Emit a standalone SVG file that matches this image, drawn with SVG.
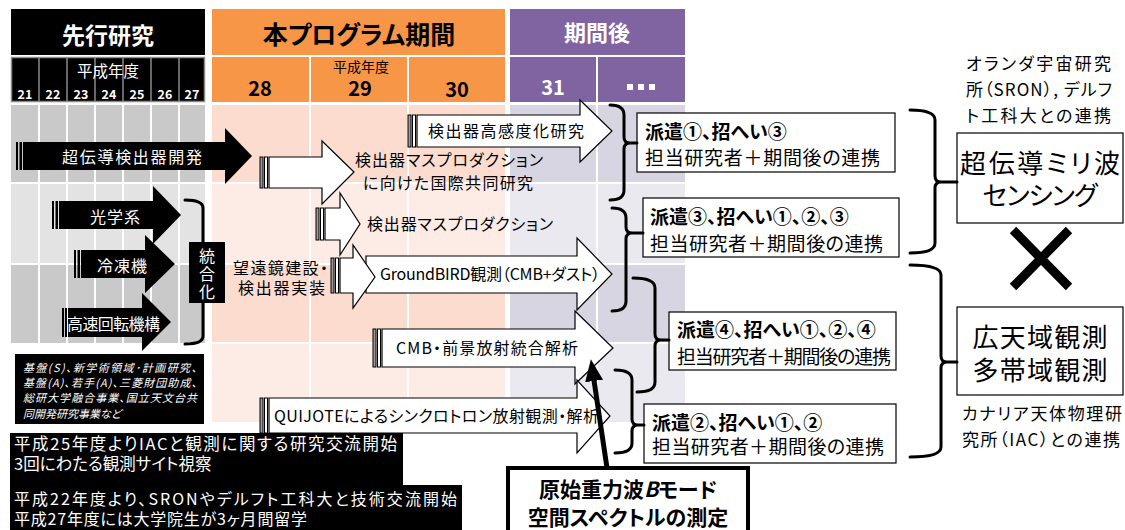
<svg xmlns="http://www.w3.org/2000/svg" width="1125" height="530" viewBox="0 0 1125 530">
<style>
text{font-family:'Noto Sans CJK JP','Noto Sans',sans-serif;font-feature-settings:"palt";}
.w{fill:#fff}
.bd{font-weight:bold}
.m{text-anchor:middle}
.arr{fill:#fff;stroke:#000;stroke-width:1.2;stroke-linejoin:miter}
.bar{fill:#fff;stroke:#000;stroke-width:1}
.barg{fill:#9a9a9a;stroke:#000;stroke-width:1}
.brace{fill:none;stroke:#000;stroke-width:3;stroke-linejoin:round;stroke-linecap:round}
.box{fill:#fff;stroke:#000;stroke-width:1.2}
.sepw{stroke:#fff;stroke-width:2}
.sepg{stroke:#8a8a8a;stroke-width:1.5}
.t16{font-size:16px}
.t19{font-size:19px}
</style>
<defs>
<marker id="ah" markerUnits="userSpaceOnUse" markerWidth="24" markerHeight="20" refX="4" refY="10" orient="auto">
<path d="M0,1 L22,10 L0,19 Z" fill="#000"/>
</marker>
</defs>
<rect width="1125" height="530" fill="#fff"/>

<g id="header">
<rect x="11" y="9" width="194" height="46" fill="#000"/>
<text x="108" y="44" class="w bd m" font-size="23">先行研究</text>
<rect x="212" y="9" width="293" height="46" fill="#f79646"/>
<text x="359" y="44" class="bd m" font-size="25">本プログラム期間</text>
<rect x="510" y="9" width="175" height="46" fill="#8064a2"/>
<text x="597" y="41" class="w bd m" font-size="22">期間後</text>

<rect x="11" y="57" width="194" height="45" fill="#000"/>
<g class="sepg">
<line x1="39" y1="57" x2="39" y2="102"/><line x1="67" y1="57" x2="67" y2="102"/><line x1="95" y1="57" x2="95" y2="102"/>
<line x1="123" y1="57" x2="123" y2="102"/><line x1="151" y1="57" x2="151" y2="102"/><line x1="179" y1="57" x2="179" y2="102"/>
<rect x="11.5" y="57.5" width="193" height="44" fill="none"/>
</g>
<text x="108" y="77" class="w m" font-size="15.5">平成年度</text>
<g class="w bd m" font-size="12.5">
<text x="25" y="99">21</text><text x="53" y="99">22</text><text x="81" y="99">23</text><text x="109" y="99">24</text>
<text x="137" y="99">25</text><text x="165" y="99">26</text><text x="192" y="99">27</text>
</g>
<rect x="212" y="57" width="293" height="45" fill="#f79646"/>
<line x1="310" y1="57" x2="310" y2="102" class="sepw"/><line x1="408" y1="57" x2="408" y2="102" class="sepw"/>
<text x="361" y="72" class="m" font-size="14">平成年度</text>
<text x="260" y="96" class="bd m" font-size="20">28</text>
<text x="360" y="96" class="bd m" font-size="20">29</text>
<text x="457" y="97" class="bd m" font-size="20">30</text>
<rect x="510" y="57" width="175" height="45" fill="#8064a2"/>
<line x1="597" y1="57" x2="597" y2="102" class="sepw"/>
<text x="553" y="95" class="w bd m" font-size="20">31</text>
<g fill="#fff"><rect x="627" y="84" width="6" height="6"/><rect x="638" y="84" width="6" height="6"/><rect x="649" y="84" width="6" height="6"/></g>
</g>

<g id="timeline-body">
<rect x="11" y="105" width="194" height="78" fill="#c9c9c9"/>
<rect x="11" y="183" width="194" height="81" fill="#e3e3e3"/>
<rect x="11" y="264" width="194" height="79" fill="#c9c9c9"/>
<g class="sepw">
<line x1="39" y1="105" x2="39" y2="343"/><line x1="67" y1="105" x2="67" y2="343"/><line x1="95" y1="105" x2="95" y2="343"/>
<line x1="123" y1="105" x2="123" y2="343"/><line x1="151" y1="105" x2="151" y2="343"/><line x1="179" y1="105" x2="179" y2="343"/>
<line x1="11" y1="183" x2="205" y2="183"/><line x1="11" y1="264" x2="205" y2="264"/>
</g>
<rect x="212" y="105" width="293" height="78" fill="#fbdccf"/>
<rect x="212" y="183" width="293" height="81" fill="#fdece6"/>
<rect x="212" y="264" width="293" height="79" fill="#fbdccf"/>
<rect x="212" y="343" width="293" height="79" fill="#fdece6"/>
<rect x="510" y="105" width="175" height="78" fill="#d8d5e3"/>
<rect x="510" y="183" width="175" height="81" fill="#ebe9f0"/>
<rect x="510" y="264" width="175" height="79" fill="#d8d5e3"/>
<rect x="510" y="343" width="175" height="79" fill="#ebe9f0"/>
<g class="sepw">
<line x1="310" y1="105" x2="310" y2="422"/><line x1="408" y1="105" x2="408" y2="422"/><line x1="597" y1="105" x2="597" y2="422"/>
<line x1="212" y1="183" x2="505" y2="183"/><line x1="212" y1="264" x2="505" y2="264"/><line x1="212" y1="343" x2="505" y2="343"/>
<line x1="510" y1="183" x2="685" y2="183"/><line x1="510" y1="264" x2="685" y2="264"/><line x1="510" y1="343" x2="685" y2="343"/>
</g>
</g>

<g id="prior-arrows">
<g id="n-superconducting">
<rect x="16" y="142" width="2" height="28"/><rect x="19.5" y="142" width="2.5" height="28"/>
<polygon points="23,142 225,142 225,128 252,156 225,184 225,170 23,170"/>
<text x="62" y="163" class="w t16" textLength="140">超伝導検出器開発</text>
</g>
<g id="n-optics">
<rect x="52" y="201" width="2" height="28"/><rect x="55.5" y="201" width="2.5" height="28"/>
<polygon points="59,201 153,201 153,186 181,215 153,244 153,229 59,229"/>
<text x="90" y="223" class="w t16" textLength="50">光学系</text>
</g>
<g id="n-cryo">
<rect x="74" y="250" width="2" height="28"/><rect x="77.5" y="250" width="2.5" height="28"/>
<polygon points="81,250 145,250 145,235 175,264 145,293 145,278 81,278"/>
<text x="97" y="272" class="w t16" textLength="50">冷凍機</text>
</g>
<g id="n-rotation">
<rect x="62" y="308" width="2" height="29"/><rect x="65" y="308" width="2" height="29"/>
<polygon points="68,308 142,308 142,293 171,322 142,351 142,337 68,337"/>
<text x="67" y="330" class="w t16" textLength="93">高速回転機構</text>
</g>
<path class="brace" d="M185,200 Q203,200 203,208 V336 Q203,344 185,344" stroke-width="2.5"/>
<g id="n-integration">
<rect x="189" y="242" width="36" height="61" fill="#000"/>
<text x="207" y="248" class="w" font-size="16" writing-mode="tb" letter-spacing="2">統合化</text>
</g>
</g>

<g id="n-funding">
<rect x="15" y="354" width="189" height="70" fill="#000"/>
<text class="w" font-size="11" font-style="italic"><tspan x="23" y="372" textLength="174">基盤(S)、新学術領域･計画研究、</tspan><tspan x="23" y="387" textLength="174">基盤(A)、若手(A)、三菱財団助成、</tspan><tspan x="23" y="402" textLength="174">総研大学融合事業、国立天文台共</tspan><tspan x="23" y="418">同開発研究事業など</tspan></text>
</g>

<g id="program-arrows">
<g id="n-sensitivity">
<rect x="408" y="115" width="3" height="32" class="barg"/><rect x="412.5" y="115" width="3" height="32" class="bar"/>
<polygon class="arr" points="417,115 580,115 580,100 612,131 580,162 580,147 417,147"/>
<text x="428" y="137" class="t16" textLength="156">検出器高感度化研究</text>
</g>
<g id="n-intl">
<rect x="260" y="157" width="3" height="31" class="barg"/><rect x="264.5" y="157" width="3" height="31" class="bar"/>
<polygon class="arr" points="269,157 322,157 322,141 354,172 322,204 322,188 269,188"/>
<text class="t16"><tspan x="355" y="166" textLength="188">検出器マスプロダクション</tspan><tspan x="363" y="189" textLength="170">に向けた国際共同研究</tspan></text>
</g>
<g id="n-massprod">
<rect x="316" y="208" width="3" height="32" class="barg"/><rect x="320.5" y="208" width="3" height="32" class="bar"/>
<polygon class="arr" points="325,208 340,208 340,193 360,224 340,255 340,240 325,240"/>
<text x="367" y="230" class="t16" textLength="186">検出器マスプロダクション</text>
</g>
<g id="n-groundbird">
<polygon class="arr" points="366,256 577,256 577,238 612,274 577,310 577,293 366,293"/>
<text x="380" y="280" class="t16" textLength="220">GroundBIRD観測（CMB+ダスト）</text>
</g>
<g id="n-telescope">
<text class="t16"><tspan x="233" y="274" textLength="95">望遠鏡建設・</tspan><tspan x="238" y="294" textLength="87">検出器実装</tspan></text>
<rect x="331" y="258" width="3" height="35" class="barg"/><rect x="335.5" y="258" width="3" height="35" class="bar"/>
<polygon class="arr" points="340,258 353,258 353,245 375,277 353,308 353,293 340,293"/>
</g>
<g id="n-cmb">
<rect x="373" y="329" width="3" height="38" class="barg"/><rect x="377.5" y="329" width="3" height="38" class="bar"/>
<polygon class="arr" points="382,329 575,329 575,311 613,348 575,384 575,367 382,367"/>
<text x="396" y="354" class="t16" textLength="182">CMB・前景放射統合解析</text>
</g>
<g id="n-quijote">
<rect x="260" y="398" width="3" height="35" class="barg"/><rect x="264.5" y="398" width="3" height="35" class="bar"/>
<polygon class="arr" points="269,398 577,398 577,380 610,416 577,453 577,433 269,433"/>
<text x="274" y="422" class="t16" textLength="325">QUIJOTEによるシンクロトロン放射観測・解析</text>
</g>
</g>

<g id="n-iac-note">
<rect x="10" y="433" width="393" height="52" fill="#000"/>
<text class="w" font-size="16.5"><tspan x="14" y="450" textLength="383">平成25年度よりIACと観測に関する研究交流開始</tspan><tspan x="14" y="470">3回にわたる観測サイト視察</tspan></text>
</g>
<g id="n-sron-note">
<rect x="10" y="485" width="452" height="45" fill="#000"/>
<text class="w" font-size="16"><tspan x="14" y="505" textLength="443">平成22年度より、SRONやデルフト工科大と技術交流開始</tspan><tspan x="14" y="525" textLength="293">平成27年度には大学院生が3ヶ月間留学</tspan></text>
</g>

<g id="n-exch1">
<rect class="box" x="637" y="113" width="258" height="59"/>
<text x="645" y="139" class="t19 bd">派遣①、招へい③</text>
<text x="645" y="165" class="t19" textLength="235">担当研究者＋期間後の連携</text>
</g>
<g id="n-exch2">
<rect class="box" x="643" y="198" width="256" height="59"/>
<text x="650" y="224" class="t19 bd">派遣③、招へい①、②、③</text>
<text x="650" y="251" class="t19" textLength="233">担当研究者＋期間後の連携</text>
</g>
<g id="n-exch3">
<rect class="box" x="669" y="312" width="227" height="58"/>
<text x="677" y="337" class="t19 bd">派遣④、招へい①、②、④</text>
<text x="677" y="364" class="t19" textLength="214">担当研究者＋期間後の連携</text>
</g>
<g id="n-exch4">
<rect class="box" x="644" y="404" width="252" height="59"/>
<text x="652" y="430" class="t19 bd">派遣②、招へい①、②</text>
<text x="652" y="454" class="t19" textLength="232">担当研究者＋期間後の連携</text>
</g>

<g id="n-goal">
<rect x="508" y="468" width="240" height="70" fill="#fff" stroke="#000" stroke-width="4"/>
<text class="bd m" font-size="21"><tspan x="628" y="497">原始重力波</tspan><tspan font-style="italic">B</tspan><tspan>モード</tspan><tspan x="628" y="525">空間スペクトルの測定</tspan></text>
</g>

<g id="n-sron">
<text font-size="17"><tspan x="966" y="70" textLength="145">オランダ宇宙研究</tspan><tspan x="966" y="96" textLength="146">所（SRON）, デルフ</tspan><tspan x="966" y="122" textLength="145">ト工科大との連携</tspan></text>
</g>
<g id="n-mmwave">
<rect class="box" x="957" y="133" width="166" height="90"/>
<text class="m" font-size="26"><tspan x="1040" y="173" textLength="160">超伝導ミリ波</tspan><tspan x="1040" y="205" textLength="115">センシング</tspan></text>
</g>
<g id="n-cross">
<path d="M1013,230 L1069,287 M1069,230 L1013,287" stroke="#000" stroke-width="9" fill="none"/>
</g>
<g id="n-wide">
<rect class="box" x="957" y="307" width="166" height="88"/>
<text class="m" font-size="26"><tspan x="1040" y="347" textLength="135">広天域観測</tspan><tspan x="1040" y="380" textLength="135">多帯域観測</tspan></text>
</g>
<g id="n-iac">
<text font-size="17"><tspan x="962" y="420" textLength="160">カナリア天体物理研</tspan><tspan x="962" y="446" textLength="158">究所（IAC）との連携</tspan></text>
</g>

<g id="connectors">
<path class="brace" d="M610,105 Q624,105 624,115 V137 Q624,143 630,143 H637 M630,143 Q624,143 624,149 V190 Q624,200 610,200"/>
<path class="brace" d="M612,208 Q626,208 626,218 V227 Q626,233 632,233 H643 M632,233 Q626,233 626,239 V301 Q626,311 612,311"/>
<path class="brace" d="M633,278 Q655,278 655,288 V334 Q655,340 661,340 H669 M661,340 Q655,340 655,346 V382 Q655,392 637,392"/>
<path class="brace" d="M615,370 Q632,370 632,380 V419 Q632,425 638,425 H644 M638,425 Q632,425 632,431 V443 Q632,453 615,453"/>
<path class="brace" d="M910,110 Q935,110 935,120 V176 Q935,182 941,182 H957 M941,182 Q935,182 935,188 V243 Q935,253 910,253"/>
<path class="brace" d="M910,265 Q941,265 941,275 V356 Q941,362 947,362 H957 M947,362 Q941,362 941,368 V447 Q941,457 910,457"/>
<line x1="607" y1="468" x2="593.5" y2="377" stroke="#000" stroke-width="5" marker-end="url(#ah)"/>
</g>
</svg>
